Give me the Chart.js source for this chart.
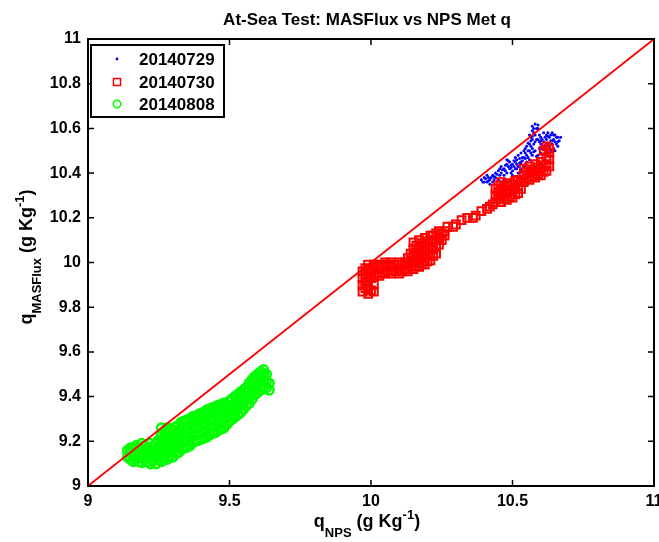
<!DOCTYPE html>
<html>
<head>
<meta charset="utf-8">
<script src="https://cdn.jsdelivr.net/npm/chart.js@4.4.1/dist/chart.umd.min.js"></script>
<style>
html,body{margin:0;padding:0;background:#fff;}
</style>
</head>
<body>
<canvas id="chart" width="659" height="542"></canvas>
<script>
// At-Sea Test: MASFlux q vs NPS Met q, three days + 1:1 line
const xTicks = [9, 9.5, 10, 10.5, 11];
const yTicks = [9, 9.2, 9.4, 9.6, 9.8, 10, 10.2, 10.4, 10.6, 10.8, 11];
const oneToOne = [[9, 9], [11, 11]];
const legendLabels = ['20140729', '20140730', '20140808'];

// 20140729 (blue dots) [q_NPS, q_MASFlux]
const q0729 = [
  [10.39,10.37],[10.40,10.36],[10.40,10.38],[10.405,10.375],[10.41,10.39],[10.41,10.36],[10.42,10.37],[10.42,10.35],
  [10.425,10.38],[10.43,10.36],[10.43,10.39],[10.44,10.40],[10.44,10.38],[10.45,10.37],[10.45,10.41],[10.455,10.39],
  [10.46,10.43],[10.46,10.40],[10.47,10.39],[10.47,10.42],[10.475,10.41],[10.48,10.44],[10.48,10.46],[10.485,10.43],
  [10.49,10.45],[10.49,10.42],[10.50,10.41],[10.50,10.44],[10.505,10.43],[10.51,10.47],[10.51,10.45],[10.515,10.46],
  [10.52,10.43],[10.52,10.40],[10.53,10.42],[10.53,10.45],[10.52,10.48],[10.53,10.49],[10.535,10.47],[10.54,10.47],
  [10.54,10.50],[10.545,10.49],[10.55,10.48],[10.55,10.52],[10.56,10.50],[10.56,10.53],[10.565,10.52],[10.57,10.51],
  [10.57,10.55],[10.575,10.53],[10.56,10.57],[10.575,10.58],[10.57,10.59],[10.57,10.61],[10.58,10.62],[10.585,10.60],
  [10.59,10.60],[10.58,10.57],[10.585,10.55],[10.59,10.55],[10.595,10.57],[10.60,10.53],[10.60,10.56],[10.605,10.55],
  [10.61,10.58],[10.615,10.56],[10.62,10.57],[10.62,10.55],[10.625,10.58],[10.63,10.56],[10.635,10.57],[10.64,10.58],
  [10.645,10.55],[10.65,10.57],[10.655,10.56],[10.66,10.56],[10.67,10.56],[10.66,10.52],[10.65,10.54],[10.65,10.50],
  [10.64,10.53],[10.63,10.52],[10.625,10.53],[10.62,10.50],[10.62,10.53],[10.61,10.51],[10.61,10.54],[10.605,10.52],
  [10.60,10.49],[10.595,10.51],[10.59,10.48],[10.58,10.50],[10.57,10.48],[10.565,10.49],[10.56,10.46],[10.55,10.45],
  [10.54,10.43],[10.53,10.44],[10.51,10.42],[10.50,10.39],[10.48,10.40],[10.47,10.37],[10.46,10.36],
  [10.395,10.36],[10.415,10.38],[10.435,10.37],[10.445,10.395],[10.465,10.415],[10.475,10.435],[10.495,10.435],
  [10.505,10.455],[10.525,10.445],[10.525,10.465],[10.545,10.465],[10.555,10.50],[10.565,10.545],[10.565,10.56],
  [10.575,10.60],[10.59,10.615],[10.595,10.54],[10.615,10.525],[10.635,10.545],[10.655,10.53],[10.665,10.545],
  [10.645,10.51],[10.635,10.50],[10.615,10.49],[10.585,10.475],[10.555,10.47],[10.535,10.41],[10.495,10.40],
  [10.415,10.365],[10.435,10.385],[10.455,10.42],[10.485,10.455],[10.495,10.425],[10.515,10.44],[10.535,10.455],
  [10.545,10.51],[10.555,10.535],[10.57,10.565],[10.58,10.54],[10.60,10.545],[10.625,10.565],[10.645,10.57],
  [10.66,10.54],[10.64,10.545],[10.60,10.51],[10.575,10.495],[10.545,10.44],[10.515,10.42]
];

// 20140730 (red squares)
const q0730 = [
  [9.97,9.87],[9.97,9.90],[9.97,9.93],[9.97,9.96],[9.98,9.885],[9.98,9.915],[9.98,9.945],[9.98,9.975],
  [9.99,9.86],[9.99,9.88],[9.99,9.91],[9.99,9.94],[9.99,9.97],[9.99,9.99],[10.00,9.875],[10.00,9.93],[10.00,9.96],
  [10.01,9.87],[10.01,9.90],[10.01,9.94],[10.01,9.97],[10.01,9.99],
  [10.02,9.95],[10.02,9.98],[10.03,9.94],[10.03,9.97],[10.03,9.99],[10.04,9.955],[10.04,9.985],
  [10.05,9.95],[10.05,9.98],[10.05,10.00],[10.06,9.96],[10.06,9.99],[10.07,9.95],[10.07,9.98],[10.07,10.00],
  [10.08,9.965],[10.08,9.99],[10.09,9.96],[10.09,9.99],[10.10,9.95],[10.10,9.975],[10.10,10.00],
  [10.11,9.96],[10.11,9.99],[10.12,9.97],[10.12,10.00],[10.13,9.96],[10.13,9.99],[10.13,10.02],
  [10.14,9.98],[10.14,10.01],[10.14,10.04],[10.15,9.97],[10.15,10.00],[10.15,10.03],[10.15,10.06],[10.15,10.09],
  [10.16,9.985],[10.16,10.015],[10.16,10.045],[10.16,10.075],[10.17,9.98],[10.17,10.01],[10.17,10.04],[10.17,10.07],[10.17,10.10],
  [10.18,9.995],[10.18,10.025],[10.18,10.055],[10.18,10.085],[10.19,9.99],[10.19,10.02],[10.19,10.05],[10.19,10.08],[10.19,10.11],
  [10.20,10.005],[10.20,10.035],[10.20,10.065],[10.20,10.095],[10.21,10.01],[10.21,10.04],[10.21,10.07],[10.21,10.10],[10.21,10.12],
  [10.22,10.03],[10.22,10.06],[10.22,10.09],[10.22,10.12],[10.23,10.04],[10.23,10.07],[10.23,10.10],[10.23,10.13],
  [10.24,10.08],[10.24,10.11],[10.24,10.14],[10.25,10.10],[10.25,10.13],[10.26,10.12],[10.26,10.14],
  [10.27,10.16],[10.29,10.16],[10.30,10.17],[10.32,10.19],[10.34,10.20],[10.36,10.20],[10.37,10.21],
  [10.39,10.23],[10.41,10.24],[10.42,10.25],[10.43,10.26],
  [10.44,10.27],[10.44,10.30],[10.44,10.33],[10.45,10.285],[10.45,10.315],[10.45,10.345],
  [10.46,10.27],[10.46,10.30],[10.46,10.33],[10.46,10.36],[10.47,10.285],[10.47,10.315],[10.47,10.345],
  [10.48,10.28],[10.48,10.31],[10.48,10.34],[10.49,10.295],[10.49,10.325],[10.49,10.355],
  [10.50,10.29],[10.50,10.32],[10.50,10.35],[10.51,10.305],[10.51,10.335],[10.51,10.365],
  [10.52,10.31],[10.52,10.34],[10.52,10.37],[10.53,10.33],[10.53,10.36],
  [10.54,10.36],[10.54,10.39],[10.54,10.42],[10.55,10.375],[10.55,10.405],
  [10.56,10.37],[10.56,10.40],[10.56,10.43],[10.57,10.385],[10.57,10.415],
  [10.58,10.38],[10.58,10.41],[10.58,10.44],[10.59,10.395],[10.59,10.425],
  [10.60,10.39],[10.60,10.42],[10.60,10.45],[10.61,10.405],[10.61,10.435],
  [10.62,10.41],[10.62,10.44],[10.62,10.47],[10.63,10.43],[10.63,10.46],[10.63,10.49],[10.63,10.51],
  [10.61,10.50],[10.62,10.52]
];

// 20140808 (green circles)
const q0808 = [
  [9.14,9.13],[9.14,9.16],[9.15,9.12],[9.15,9.15],[9.15,9.17],[9.16,9.11],[9.16,9.14],[9.16,9.17],
  [9.17,9.12],[9.17,9.15],[9.17,9.18],[9.18,9.11],[9.18,9.14],[9.18,9.17],
  [9.19,9.105],[9.19,9.13],[9.19,9.16],[9.19,9.19],[9.20,9.12],[9.20,9.15],[9.20,9.18],
  [9.21,9.11],[9.21,9.14],[9.21,9.17],[9.22,9.10],[9.22,9.13],[9.22,9.16],[9.22,9.19],
  [9.23,9.115],[9.23,9.145],[9.23,9.175],[9.24,9.10],[9.24,9.13],[9.24,9.16],[9.24,9.19],
  [9.25,9.115],[9.25,9.145],[9.25,9.175],[9.25,9.205],
  [9.26,9.11],[9.26,9.14],[9.26,9.17],[9.26,9.20],[9.26,9.23],[9.26,9.26],
  [9.27,9.125],[9.27,9.155],[9.27,9.185],[9.27,9.215],[9.27,9.245],
  [9.28,9.12],[9.28,9.15],[9.28,9.18],[9.28,9.21],[9.28,9.24],[9.28,9.26],
  [9.29,9.135],[9.29,9.165],[9.29,9.195],[9.29,9.225],[9.29,9.255],
  [9.30,9.13],[9.30,9.16],[9.30,9.19],[9.30,9.22],[9.30,9.25],
  [9.31,9.145],[9.31,9.175],[9.31,9.205],[9.31,9.235],[9.31,9.265],
  [9.32,9.15],[9.32,9.18],[9.32,9.21],[9.32,9.24],[9.32,9.27],
  [9.33,9.165],[9.33,9.195],[9.33,9.225],[9.33,9.255],[9.33,9.285],
  [9.34,9.17],[9.34,9.20],[9.34,9.23],[9.34,9.26],[9.34,9.29],
  [9.35,9.175],[9.35,9.205],[9.35,9.235],[9.35,9.265],[9.35,9.295],
  [9.36,9.18],[9.36,9.21],[9.36,9.24],[9.36,9.27],[9.36,9.30],
  [9.37,9.195],[9.37,9.225],[9.37,9.255],[9.37,9.285],[9.37,9.31],
  [9.38,9.20],[9.38,9.23],[9.38,9.26],[9.38,9.29],[9.38,9.31],
  [9.39,9.205],[9.39,9.235],[9.39,9.265],[9.39,9.295],[9.39,9.32],
  [9.40,9.21],[9.40,9.24],[9.40,9.27],[9.40,9.30],[9.40,9.325],
  [9.41,9.215],[9.41,9.245],[9.41,9.275],[9.41,9.305],[9.41,9.33],
  [9.42,9.22],[9.42,9.25],[9.42,9.28],[9.42,9.31],[9.42,9.34],
  [9.43,9.23],[9.43,9.26],[9.43,9.29],[9.43,9.32],[9.43,9.345],
  [9.44,9.235],[9.44,9.265],[9.44,9.295],[9.44,9.325],[9.44,9.35],
  [9.45,9.24],[9.45,9.27],[9.45,9.30],[9.45,9.33],[9.45,9.355],
  [9.46,9.25],[9.46,9.28],[9.46,9.31],[9.46,9.34],[9.46,9.36],
  [9.47,9.255],[9.47,9.285],[9.47,9.315],[9.47,9.345],[9.47,9.365],
  [9.48,9.26],[9.48,9.29],[9.48,9.32],[9.48,9.35],[9.48,9.37],
  [9.49,9.275],[9.49,9.305],[9.49,9.335],[9.49,9.365],
  [9.50,9.29],[9.50,9.32],[9.50,9.35],[9.50,9.38],[9.51,9.30],[9.51,9.33],[9.51,9.36],[9.51,9.39],
  [9.52,9.31],[9.52,9.34],[9.52,9.37],[9.52,9.40],[9.53,9.32],[9.53,9.35],[9.53,9.38],[9.53,9.41],
  [9.54,9.33],[9.54,9.36],[9.54,9.39],[9.54,9.42],[9.55,9.345],[9.55,9.375],[9.55,9.405],[9.55,9.43],
  [9.56,9.36],[9.56,9.39],[9.56,9.42],[9.56,9.44],[9.57,9.37],[9.57,9.40],[9.57,9.43],[9.57,9.46],
  [9.58,9.39],[9.58,9.42],[9.58,9.45],[9.58,9.475],[9.59,9.41],[9.59,9.44],[9.59,9.47],[9.59,9.49],
  [9.60,9.42],[9.60,9.45],[9.60,9.48],[9.60,9.50],[9.61,9.43],[9.61,9.46],[9.61,9.49],[9.61,9.51],
  [9.62,9.44],[9.62,9.47],[9.62,9.50],[9.62,9.52],[9.63,9.44],[9.63,9.47],[9.63,9.50],
  [9.64,9.43],[9.64,9.46]
];

const FONT = '"Liberation Sans", Arial, sans-serif';
const BLUE = '#0000ff', RED = '#ff0000', GREEN = '#00ff00';
const toXY = arr => arr.map(p => ({x: p[0], y: p[1]}));

function richText(ctx, parts, cx, cy){
  let total = 0;
  parts.forEach(p => { ctx.font = 'bold ' + p.size + 'px ' + FONT; p.w = ctx.measureText(p.t).width; total += p.w; });
  let x = cx - total / 2;
  parts.forEach(p => { ctx.font = 'bold ' + p.size + 'px ' + FONT; ctx.fillText(p.t, x, cy + p.dy); x += p.w; });
}

const decor = {
  id: 'decor',
  afterDraw(chart){
    const {ctx, chartArea: a, scales: {x, y}} = chart;
    ctx.save();
    // axes box + inward ticks
    ctx.strokeStyle = '#000';
    ctx.lineWidth = 2;
    ctx.strokeRect(a.left, a.top, a.right - a.left, a.bottom - a.top);
    ctx.lineWidth = 1.5;
    ctx.beginPath();
    xTicks.forEach(v => {
      const px = x.getPixelForValue(v);
      ctx.moveTo(px, a.bottom); ctx.lineTo(px, a.bottom - 6);
      ctx.moveTo(px, a.top); ctx.lineTo(px, a.top + 6);
    });
    yTicks.forEach(v => {
      const py = y.getPixelForValue(v);
      ctx.moveTo(a.left, py); ctx.lineTo(a.left + 6, py);
      ctx.moveTo(a.right, py); ctx.lineTo(a.right - 6, py);
    });
    ctx.stroke();

    // titles
    ctx.fillStyle = '#000';
    ctx.textAlign = 'left';
    ctx.textBaseline = 'alphabetic';
    richText(ctx, [{t: 'At-Sea Test: MASFlux vs NPS Met q', size: 17, dy: 0}], 367, 25);
    richText(ctx, [
      {t: 'q', size: 18, dy: 0}, {t: 'NPS', size: 13, dy: 10}, {t: ' (g Kg', size: 18, dy: 0},
      {t: '-1', size: 13, dy: -8}, {t: ')', size: 18, dy: 0}
    ], 367, 527);
    ctx.save();
    ctx.translate(32, 257);
    ctx.rotate(-Math.PI / 2);
    richText(ctx, [
      {t: 'q', size: 18, dy: 0}, {t: 'MASFlux', size: 13, dy: 9}, {t: ' (g Kg', size: 18, dy: 0},
      {t: '-1', size: 13, dy: -8}, {t: ')', size: 18, dy: 0}
    ], 0, 0);
    ctx.restore();

    // legend box
    ctx.fillStyle = '#fff';
    ctx.fillRect(91, 45, 133, 72);
    ctx.lineWidth = 2;
    ctx.strokeRect(91, 45, 133, 72);
    const rows = [59, 82, 104];
    ctx.lineWidth = 1.5;
    ctx.fillStyle = BLUE;
    ctx.beginPath(); ctx.arc(117, rows[0], 1.4, 0, Math.PI * 2); ctx.fill();
    ctx.strokeStyle = RED;
    ctx.strokeRect(113.5, rows[1] - 3.5, 7, 7);
    ctx.strokeStyle = GREEN;
    ctx.beginPath(); ctx.arc(117, rows[2], 3.8, 0, Math.PI * 2); ctx.stroke();
    ctx.fillStyle = '#000';
    ctx.font = 'bold 17px ' + FONT;
    ctx.textBaseline = 'middle';
    legendLabels.forEach((l, i) => ctx.fillText(l, 139, rows[i] + 1));
    ctx.restore();
  }
};

const tickFont = {family: FONT, size: 16, weight: 'bold'};

new Chart(document.getElementById('chart').getContext('2d'), {
  type: 'scatter',
  data: {
    datasets: [
      {label: '1:1', data: toXY(oneToOne), showLine: true, borderColor: RED, borderWidth: 1.8, pointRadius: 0, order: 0},
      {label: legendLabels[2], data: toXY(q0808), pointStyle: 'circle', pointRadius: 4.5, borderWidth: 2.5,
       borderColor: GREEN, backgroundColor: 'rgba(0,0,0,0)', order: 1},
      {label: legendLabels[1], data: toXY(q0730), pointStyle: 'rect', pointRadius: 5.5, borderWidth: 2,
       borderColor: RED, backgroundColor: 'rgba(0,0,0,0)', order: 2},
      {label: legendLabels[0], data: toXY(q0729), pointStyle: 'circle', pointRadius: 1.5, borderWidth: 0,
       backgroundColor: BLUE, borderColor: BLUE, order: 3}
    ]
  },
  options: {
    responsive: false,
    animation: false,
    devicePixelRatio: 1,
    layout: {padding: {left: 0, right: 5, top: 39, bottom: 0}, autoPadding: false},
    plugins: {legend: {display: false}, tooltip: {enabled: false}, title: {display: false}},
    scales: {
      x: {
        type: 'linear', min: 9, max: 11,
        grid: {display: false, drawTicks: false}, border: {display: false},
        afterBuildTicks: s => { s.ticks = xTicks.map(v => ({value: v})); },
        afterFit: s => { s.height = 56; s.paddingLeft = 0; s.paddingRight = 0; },
        ticks: {font: tickFont, color: '#000', padding: 6, maxRotation: 0, autoSkip: false, callback: v => String(v)}
      },
      y: {
        type: 'linear', min: 9, max: 11,
        grid: {display: false, drawTicks: false}, border: {display: false},
        afterBuildTicks: s => { s.ticks = yTicks.map(v => ({value: v})); },
        afterFit: s => { s.width = 88; s.paddingTop = 0; s.paddingBottom = 0; },
        ticks: {font: tickFont, color: '#000', padding: 7, autoSkip: false, callback: v => String(v)}
      }
    }
  },
  plugins: [decor]
});
</script>
</body>
</html>
